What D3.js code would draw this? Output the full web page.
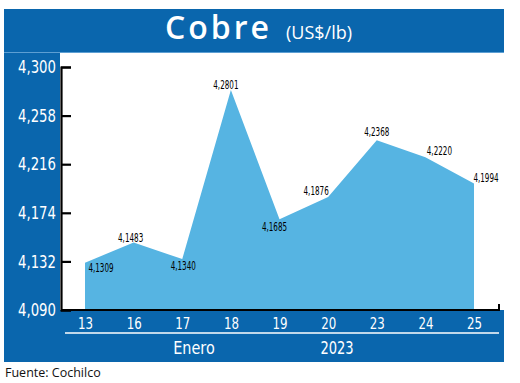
<!DOCTYPE html>
<html>
<head>
<meta charset="utf-8">
<script src="https://cdn.jsdelivr.net/npm/d3@7"></script>
<style>
  body { margin: 0; background: #fff; }
  svg { display: block; }
</style>
</head>
<body>
<div id="chart"></div>
<script>
"use strict";

// data
const days = ["13", "16", "17", "18", "19", "20", "23", "24", "25"];
const prices = [4.1309, 4.1483, 4.134, 4.2801, 4.1685, 4.1876, 4.2368, 4.222, 4.1994];
const yTicks = [4.09, 4.132, 4.174, 4.216, 4.258, 4.3];
const monthLabels = ["Enero", "2023"];

// label nudges, so the numbers sit where they did in the print
const labelShift = [[16, 5], [-3, -5], [1, 6], [-5, -6], [-5, 7], [-12, -7], [0, -9], [14, -7], [12, -6]];

const W = 520, H = 383;
const blue = "#0a66ad", fillBlue = "#56b4e2";
const narrow = "'Liberation Sans Narrow', 'DejaVu Sans Condensed', 'Liberation Sans', sans-serif";

// squeeze a text to a width, the print uses a condensed face
function squeeze(sel, perChar) {
  sel.each(function () {
    const n = this.textContent.length;
    d3.select(this).attr("textLength", n * perChar).attr("lengthAdjust", "spacingAndGlyphs");
  });
}

const svg = d3.select("#chart").append("svg").attr("width", W).attr("height", H);

// frame pieces
svg.append("rect").attr("x", 4).attr("y", 9).attr("width", 500).attr("height", 44).attr("fill", blue);
svg.append("rect").attr("x", 4).attr("y", 9).attr("width", 56).attr("height", 353).attr("fill", blue);
svg.append("rect").attr("x", 4).attr("y", 310).attr("width", 500).attr("height", 52).attr("fill", blue);
svg.append("line").attr("x1", 4).attr("x2", 504).attr("y1", 52.5).attr("y2", 52.5)
  .attr("stroke", "#5d9fd3").attr("stroke-width", 1);

// title
svg.append("text").attr("x", 165).attr("y", 39).attr("fill", "#fff")
  .style("font-family", "'Open Sans', sans-serif").style("font-size", "32px")
  .style("font-weight", 600).style("letter-spacing", "3px")
  .text("Cobre");
svg.append("text").attr("x", 286).attr("y", 39).attr("fill", "#fff")
  .style("font-family", "'Open Sans', sans-serif").style("font-size", "18px")
  .text("(US$/lb)");

const x = d3.scalePoint().domain(days).range([85, 474]);
const y = d3.scaleLinear().domain([4.09, 4.3]).range([310, 67]);

const area = d3.area()
  .x((d, i) => x(days[i]))
  .y0(y(4.09))
  .y1((d) => y(d));

svg.append("path").datum(prices).attr("d", area).attr("fill", fillBlue);

// y axis
const fmt = d3.formatLocale({ decimal: ",", thousands: ".", grouping: [3], currency: ["$", ""] }).format(".3f");
const yAxis = d3.axisLeft(y).tickValues(yTicks).tickSize(-10).tickPadding(5).tickFormat(fmt);
const gy = svg.append("g").attr("transform", "translate(61,0)").call(yAxis);
gy.select(".domain").attr("stroke", "#000").attr("stroke-width", 2.2);
gy.selectAll(".tick line").attr("stroke", "#000").attr("stroke-width", 2.2);
gy.selectAll(".tick text").attr("fill", "#fff")
  .style("font-family", narrow).style("font-size", "18px")
  .call(squeeze, 7.6);

// bottom axis line
svg.append("path")
  .attr("d", d3.line()([[61, y(4.09)], [499, y(4.09)], [499, y(4.09) - 6]]))
  .attr("fill", "none").attr("stroke", "#000").attr("stroke-width", 2);

// x axis labels
const xAxis = d3.axisBottom(x).tickSize(0).tickPadding(7);
const gx = svg.append("g").attr("transform", "translate(0,311)").call(xAxis);
gx.select(".domain").remove();
gx.selectAll(".tick text").attr("fill", "#fff")
  .style("font-family", narrow).style("font-size", "16px")
  .call(squeeze, 7.5);

svg.append("line").attr("x1", 65).attr("x2", 499).attr("y1", 333).attr("y2", 333)
  .attr("stroke", "#fff").attr("stroke-width", 1.5);

svg.selectAll(".month").data(monthLabels).enter().append("text")
  .attr("class", "month")
  .attr("x", (d, i) => [194, 337][i])
  .attr("y", 354)
  .attr("text-anchor", "middle")
  .attr("fill", "#fff")
  .style("font-family", narrow).style("font-size", "18px")
  .text((d) => d)
  .call(squeeze, 8.3);

// value labels
svg.selectAll(".val").data(prices).enter().append("text")
  .attr("class", "val")
  .attr("x", (d, i) => x(days[i]) + labelShift[i][0])
  .attr("y", (d, i) => y(d) + labelShift[i][1])
  .attr("dy", "0.35em")
  .attr("text-anchor", "middle")
  .attr("fill", "#000")
  .style("font-family", narrow).style("font-size", "13px")
  .text((d) => d3.format(".4f")(d).replace(".", ","))
  .call(squeeze, 4.2);

svg.append("text").attr("x", 5).attr("y", 377).attr("fill", "#111")
  .style("font-family", "'Open Sans', sans-serif").style("font-size", "12.5px")
  .text("Fuente: Cochilco");
</script>
</body>
</html>
